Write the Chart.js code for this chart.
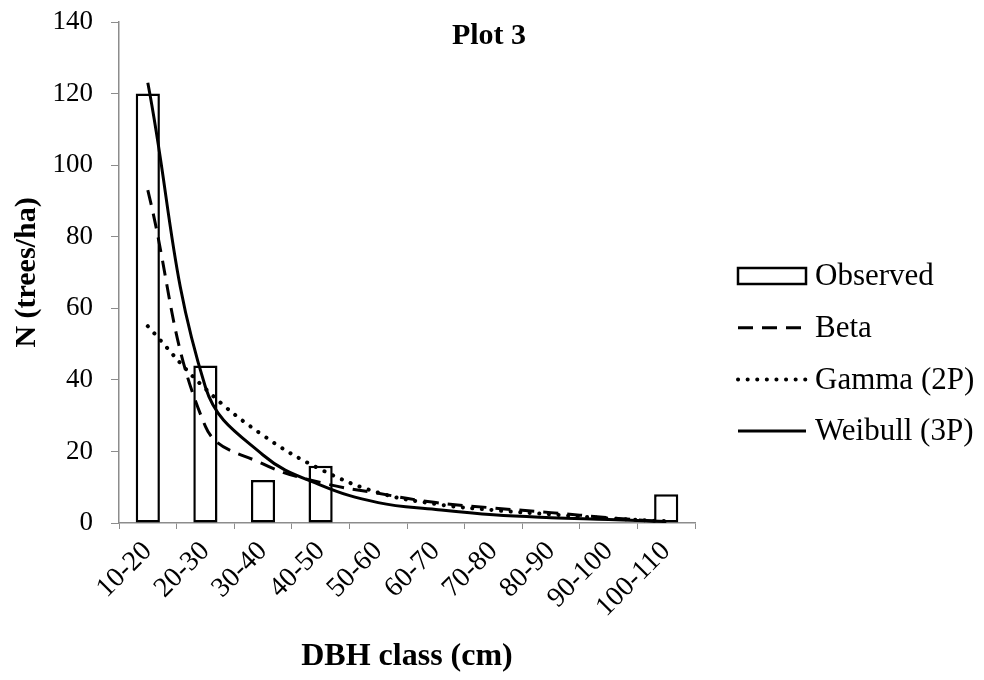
<!DOCTYPE html>
<html>
<head>
<meta charset="utf-8">
<script src="https://cdn.jsdelivr.net/npm/chart.js@4.4.1/dist/chart.umd.min.js"></script>
<style>
  body { margin: 0; background: #fff; }
  #wrap { width: 984px; height: 680px; }
</style>
</head>
<body>
<div id="wrap"><canvas id="chart" width="984" height="680"></canvas></div>
<script>
// DBH classes and trees per hectare (observed vs fitted distributions)
const dbhClasses = ['10-20', '20-30', '30-40', '40-50', '50-60', '60-70', '70-80', '80-90', '90-100', '100-110'];
const observed = [120, 44, 12, 16, 0, 0, 0, 0, 0, 8];
const betaFit = [93, 27, 16.5, 11.3, 8.3, 5.7, 4.2, 2.9, 1.5, 0.3];
const gammaFit = [55, 37.5, 24.5, 15, 8.5, 5.3, 3.6, 2.4, 1.3, 0.5];
const weibullFit = [123, 38, 19, 10.6, 5.7, 3.8, 2.3, 1.5, 1.0, 0.4];
const yTicks = [0, 20, 40, 60, 80, 100, 120, 140];

const serif = "'Liberation Serif', 'Times New Roman', serif";
const axisGrey = '#8c8c8c';

// title + legend drawn by hand so they sit where the original has them
const sideLegend = {
    id: 'sideLegend',
    afterDraw(chart) {
        const { ctx, chartArea } = chart;
        ctx.save();
        ctx.fillStyle = '#000';
        ctx.font = `bold 30px ${serif}`;
        ctx.textAlign = 'center';
        ctx.textBaseline = 'alphabetic';
        ctx.fillText('Plot 3', chart.width / 2 - 3, 44);

        const x0 = chartArea.right + 43;
        const symW = 68;
        ctx.font = `31px ${serif}`;
        ctx.textAlign = 'left';
        ctx.textBaseline = 'middle';
        chart.data.datasets.forEach((ds, i) => {
            const y = 276 + i * 51.7;
            ctx.save();
            ctx.strokeStyle = ds.borderColor;
            ctx.lineWidth = ds.borderWidth;
            if (ds.type === 'line') {
                ctx.setLineDash(ds.borderDash || []);
                ctx.lineCap = ds.borderCapStyle || 'butt';
                ctx.beginPath();
                ctx.moveTo(x0, y);
                ctx.lineTo(x0 + symW, y);
                ctx.stroke();
            } else {
                ctx.fillStyle = ds.backgroundColor;
                ctx.fillRect(x0, y - 8, symW, 16);
                ctx.strokeRect(x0, y - 8, symW, 16);
            }
            ctx.restore();
            ctx.fillText(ds.label, x0 + symW + 9, y + 1);
        });
        ctx.restore();
    }
};

const lineBase = {
    type: 'line',
    borderColor: '#000',
    backgroundColor: '#000',
    borderWidth: 3,
    pointRadius: 0,
    tension: 0.4,
    fill: false,
    order: 0
};

const ctx = document.getElementById('chart').getContext('2d');
new Chart(ctx, {
    type: 'bar',
    data: {
        labels: dbhClasses,
        datasets: [
            {
                label: 'Observed',
                data: observed,
                backgroundColor: '#fff',
                borderColor: '#000',
                borderWidth: 2.5,
                borderSkipped: false,
                categoryPercentage: 1,
                barPercentage: 0.42,
                order: 1
            },
            { ...lineBase, label: 'Beta', data: betaFit, borderDash: [15, 9] },
            { ...lineBase, label: 'Gamma (2P)', data: gammaFit, borderWidth: 4, borderDash: [0.1, 9.5], borderCapStyle: 'round' },
            { ...lineBase, label: 'Weibull (3P)', data: weibullFit }
        ]
    },
    options: {
        responsive: false,
        animation: false,
        layout: { padding: { top: 22, right: 289, bottom: 0, left: 0 } },
        plugins: {
            tooltip: { enabled: false },
            title: { display: false },
            legend: { display: false }
        },
        scales: {
            x: {
                grid: { display: true, drawOnChartArea: false, drawTicks: true, tickLength: 6, color: axisGrey, offset: true },
                border: { color: axisGrey, width: 1.5 },
                ticks: { color: '#000', font: { family: serif, size: 28 }, minRotation: 45, maxRotation: 45, padding: 6 },
                title: { display: true, text: 'DBH class (cm)', color: '#000', font: { family: serif, size: 32, weight: 'bold' }, padding: { top: 0, bottom: 4 } },
                afterFit: (scale) => { scale.height = 157; scale.paddingTop = 0; }
            },
            y: {
                min: 0,
                max: 140,
                afterBuildTicks: (scale) => { scale.ticks = yTicks.map(v => ({ value: v })); },
                grid: { display: true, drawOnChartArea: false, drawTicks: true, tickLength: 8, color: axisGrey },
                border: { color: axisGrey, width: 1.5 },
                ticks: { color: '#000', font: { family: serif, size: 27 }, padding: 18 },
                title: { display: true, text: 'N (trees/ha)', color: '#000', font: { family: serif, size: 30, weight: 'bold' }, padding: { top: 9, bottom: 0 } },
                afterFit: (scale) => { scale.width = 119; scale.paddingTop = 0; scale.paddingBottom = 0; }
            }
        }
    },
    plugins: [sideLegend]
});
</script>
</body>
</html>
